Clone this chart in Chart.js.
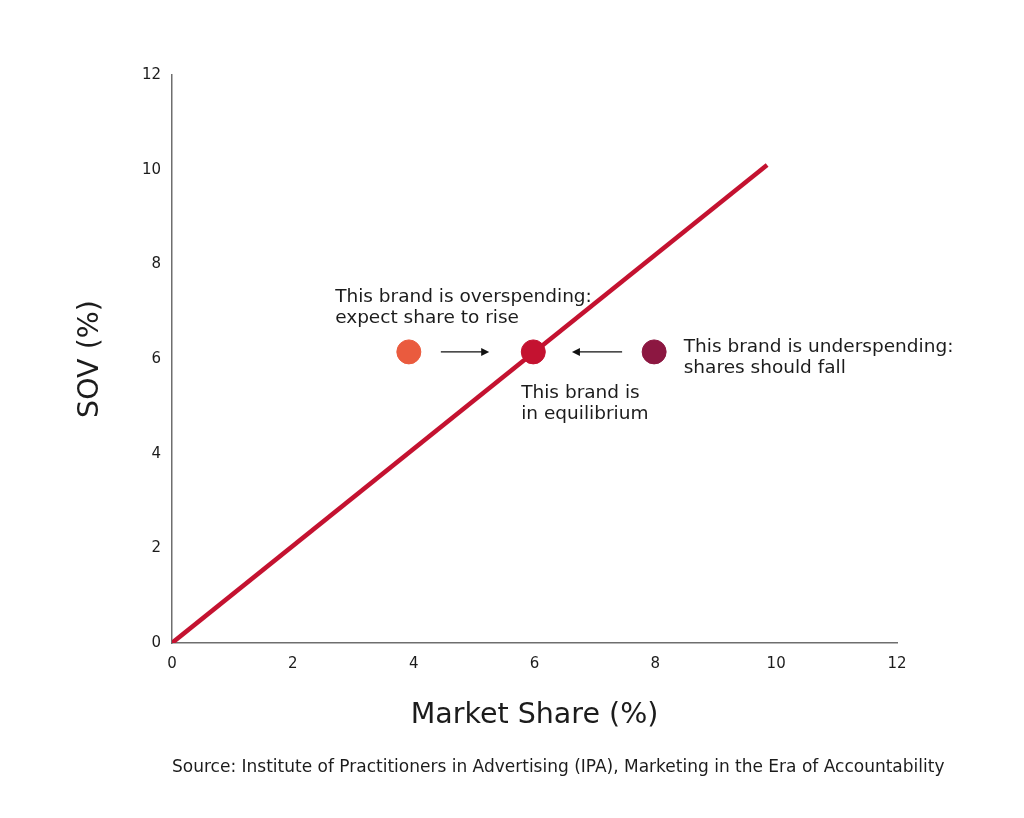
<!DOCTYPE html>
<html><head><meta charset="utf-8">
<script src="https://cdn.jsdelivr.net/npm/chart.js@4.4.0/dist/chart.umd.min.js"></script>
<style>html,body{margin:0;padding:0;background:#fff}canvas{display:block}</style>
</head><body><canvas id="c" width="1024" height="818"></canvas>
<script>
// ---- data ----
const xTicks = [0, 2, 4, 6, 8, 10, 12];
const yTicks = [0, 2, 4, 6, 8, 10, 12];
const lineX = [0, 9.85];
const lineY = [0, 10.1];
const brandNames = ['Overspending', 'Equilibrium', 'Underspending'];
const brandX = [3.92, 5.98, 7.98];
const brandY = [6.15, 6.15, 6.15];
const brandColors = ['#EA5B3E', '#C41230', '#8C1741'];
const arrowFromX = [4.45, 7.45];
const arrowToX = [5.25, 6.62];
const arrowY = [6.15, 6.15];
const noteLines = [
  ['This brand is overspending:', 'expect share to rise'],
  ['This brand is', 'in equilibrium'],
  ['This brand is underspending:', 'shares should fall']
];
const noteX = [2.70, 5.78, 8.47];
const noteY = [7.31, 5.28, 6.25];
const xTitle = 'Market Share (%)';
const yTitle = 'SOV (%)';
const sourceText = 'Source: Institute of Practitioners in Advertising (IPA), Marketing in the Era of Accountability';

const FONT = '"DejaVu Sans", "Open Sans", sans-serif';
const TEXT = '#1c1c1c';

const annotations = {
  id: 'annotations',
  afterDatasetsDraw(chart) {
    const {ctx, scales: {x, y}, chartArea} = chart;
    ctx.save();
    // arrows
    ctx.strokeStyle = '#111';
    ctx.fillStyle = '#111';
    ctx.lineWidth = 1.2;
    for (let i = 0; i < arrowFromX.length; i++) {
      const x0 = x.getPixelForValue(arrowFromX[i]);
      const x1 = x.getPixelForValue(arrowToX[i]);
      const yy = y.getPixelForValue(arrowY[i]);
      const dir = Math.sign(x1 - x0);
      ctx.beginPath();
      ctx.moveTo(x0, yy);
      ctx.lineTo(x1 - dir * 6, yy);
      ctx.stroke();
      ctx.beginPath();
      ctx.moveTo(x1, yy);
      ctx.lineTo(x1 - dir * 8, yy - 4);
      ctx.lineTo(x1 - dir * 8, yy + 4);
      ctx.closePath();
      ctx.fill();
    }
    // notes
    ctx.fillStyle = TEXT;
    ctx.font = '18.5px ' + FONT;
    ctx.textAlign = 'left';
    ctx.textBaseline = 'middle';
    for (let i = 0; i < noteLines.length; i++) {
      const px = x.getPixelForValue(noteX[i]);
      const py = y.getPixelForValue(noteY[i]);
      noteLines[i].forEach((t, j) => ctx.fillText(t, px, py + j * 21));
    }
    // source
    ctx.font = '17px ' + FONT;
    ctx.fillText(sourceText, chartArea.left, 768);
    ctx.restore();
  }
};

new Chart(document.getElementById('c'), {
  type: 'scatter',
  data: {
    datasets: [
      {
        label: 'Equilibrium line',
        type: 'line',
        data: lineX.map((v, i) => ({x: v, y: lineY[i]})),
        borderColor: '#C41230',
        borderWidth: 4.5,
        pointRadius: 0,
        fill: false,
        order: 2
      },
      {
        label: 'Brands',
        data: brandX.map((v, i) => ({x: v, y: brandY[i]})),
        backgroundColor: brandColors,
        borderColor: brandColors,
        pointRadius: 12,
        pointHoverRadius: 12,
        order: 1
      }
    ]
  },
  options: {
    responsive: false,
    animation: false,
    devicePixelRatio: 1,
    layout: {padding: {left: 73, right: 127, top: 75, bottom: 85}},
    plugins: {legend: {display: false}, tooltip: {enabled: false}},
    scales: {
      x: {
        type: 'linear', min: 0, max: 12,
        afterBuildTicks: s => { s.ticks = xTicks.map(v => ({value: v})); },
        afterFit: s => { s.height = 90; },
        grid: {display: false},
        border: {display: true, color: '#6e6e6e', width: 1.5},
        ticks: {color: TEXT, font: {family: FONT, size: 15}, padding: 4, maxRotation: 0},
        title: {display: true, text: xTitle, color: TEXT, font: {family: FONT, size: 28.5}, padding: {top: 0, bottom: 0}}
      },
      y: {
        type: 'linear', min: 0, max: 12,
        afterBuildTicks: s => { s.ticks = yTicks.map(v => ({value: v})); },
        afterFit: s => { s.width = 99; },
        grid: {display: false},
        border: {display: true, color: '#6e6e6e', width: 1.5},
        ticks: {color: TEXT, font: {family: FONT, size: 15}, padding: 3},
        title: {display: true, text: yTitle, color: TEXT, font: {family: FONT, size: 28.5}, padding: {top: 0, bottom: 0}}
      }
    }
  },
  plugins: [annotations]
});
</script>
</body></html>
